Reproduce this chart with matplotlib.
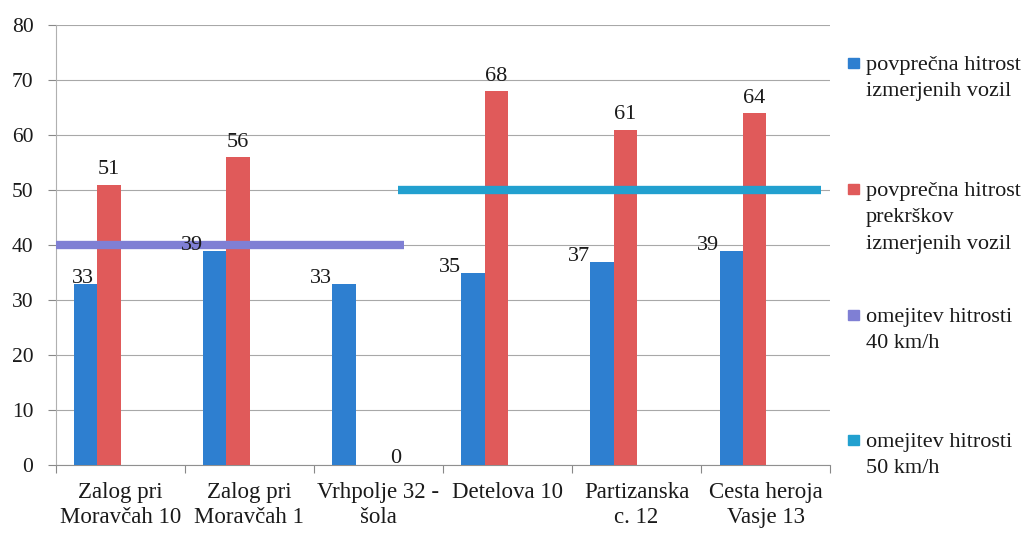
import numpy as np
import matplotlib
matplotlib.use("Agg")
import matplotlib.pyplot as plt
from matplotlib.patches import Rectangle

plt.rcParams["font.family"] = ["Liberation Serif", "DejaVu Serif"]

# podatki
categories = [
    "Zalog pri\nMoravčah 10",
    "Zalog pri\nMoravčah 1",
    "Vrhpolje 32 -\nšola",
    "Detelova 10",
    "Partizanska\nc. 12",
    "Cesta heroja\nVasje 13",
]
avg_speed = [33, 39, 33, 35, 37, 39]
avg_violation = [51, 56, 0, 68, 61, 64]
limit_40 = 40
limit_50 = 50
limit_40_span = (-0.5, 2.2)
limit_50_span = (2.15, 5.43)
legend_labels = [
    "povprečna hitrost\nizmerjenih vozil",
    "povprečna hitrost\nprekrškov\nizmerjenih vozil",
    "omejitev hitrosti\n40 km/h",
    "omejitev hitrosti\n50 km/h",
]

c_blue = "#2e7fd0"
c_red = "#e05a5a"
c_purple = "#7f7fd4"
c_cyan = "#22a0cf"
txt = "#1a1a1a"

fig = plt.figure(figsize=(10.3, 5.34), dpi=100)
ax = fig.add_axes([0.054, 0.129, 0.752, 0.824])

x = np.arange(len(categories))
w = 0.18
x_blue = x - 0.267
x_red = x_blue + w

ax.bar(x_blue, avg_speed, width=w, color=c_blue, zorder=3)
ax.bar(x_red, avg_violation, width=w, color=c_red, zorder=3)

ax.plot(limit_40_span, [limit_40, limit_40], color=c_purple, lw=6, zorder=4,
        solid_capstyle="butt")
ax.plot(limit_50_span, [limit_50, limit_50], color=c_cyan, lw=6, zorder=4,
        solid_capstyle="butt")

# oznake vrednosti
for xb, v in zip(x_blue, avg_speed):
    xl = max(xb - w / 2, -0.5 + 0.3)
    ax.text(xl, v + 1.0, str(v), ha="right", va="center", fontsize=16, color=txt, zorder=5)
for xr, v in zip(x_red, avg_violation):
    if v == 0:
        ax.text(xr + 0.22, -0.6, str(v), ha="center", va="bottom", fontsize=16,
                color=txt, zorder=5)
    else:
        ax.text(xr, v + 1.0, str(v), ha="center", va="bottom", fontsize=16,
                color=txt, zorder=5)

ax.set_xlim(-0.5, len(categories) - 0.5)
ax.set_ylim(0, 80)
ax.set_yticks(range(0, 81, 10))
ax.tick_params(axis="y", labelsize=15.5, colors="#888888", labelcolor=txt,
               length=6, width=0.8, pad=10)

ax.set_xticks(x)
ax.set_xticklabels(categories, fontsize=16.5, color=txt, linespacing=1.25)
ax.set_xticks(np.arange(-0.5, len(categories)), minor=True)
ax.tick_params(axis="x", which="major", length=0, pad=12)
ax.tick_params(axis="x", which="minor", length=6, color="#888888", width=0.8)

ax.grid(axis="y", color="#a8a8a8", lw=0.8, zorder=0)
for s in ["top", "right"]:
    ax.spines[s].set_visible(False)
ax.spines["left"].set_color("#b0b0b0")
ax.spines["bottom"].set_color("#909090")

# legenda
W, H = 1030, 534
leg_colors = [c_blue, c_red, c_purple, c_cyan]
leg_tops = [56, 182, 308, 433]
for col, lab, top in zip(leg_colors, legend_labels, leg_tops):
    fig.patches.append(Rectangle((848 / W, 1 - (top + 12) / H), 11 / W, 10 / H,
                                 transform=fig.transFigure, color=col))
    fig.text(866 / W, 1 - top / H, lab, ha="left", va="top", fontsize=16,
             color=txt, linespacing=1.53)

fig.savefig("out.png", dpi=100)
